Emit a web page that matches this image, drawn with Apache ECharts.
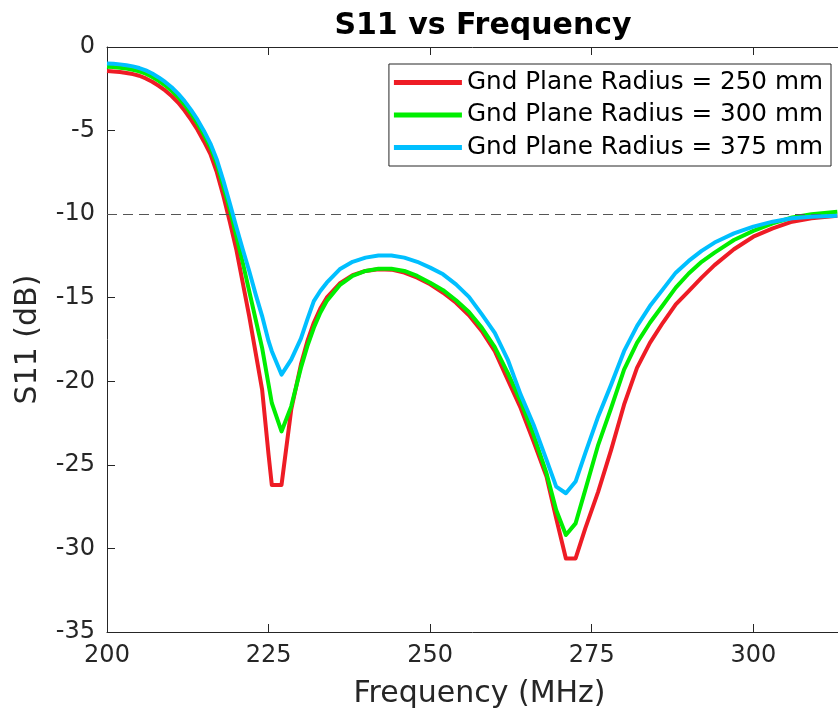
<!DOCTYPE html>
<html>
<head>
<meta charset="utf-8">
<script src="https://cdn.jsdelivr.net/npm/echarts@6/dist/echarts.min.js"></script>
<style>
html,body{margin:0;padding:0;background:#fff;}
#chart{width:838px;height:713px;}
</style>
</head>
<body>
<div id="chart"></div>
<script>
// Frequency samples (MHz)
const freq = [200,201,202,203,204,205,206,207,208,209,210,211,212,213,214,215,216,217,218,219,220,221,222,223,224,
  225,225.5,227,228.5,230,231,232,233,234,
  236,238,240,242,244,246,248,250,252,254,256,258,260,262,264,266,268,
  269.5,271,272.5,274,
  276,278,280,282,284,286,288,290,292,294,
  297,300,303,306,309,313];
// S11 (dB) for each ground plane radius
const s11_250 = [-1.44,-1.46,-1.50,-1.55,-1.62,-1.72,-1.88,-2.08,-2.32,-2.60,-2.93,-3.32,-3.80,-4.35,-4.95,-5.65,-6.40,-7.50,-8.90,-10.45,-12.1,-14.1,-16.1,-18.3,-20.5,
  -24.4,-26.2,-26.2,-21.7,-19.0,-17.6,-16.5,-15.65,-15.0,
  -14.15,-13.65,-13.4,-13.3,-13.32,-13.5,-13.8,-14.2,-14.7,-15.3,-16.05,-17.0,-18.2,-19.9,-21.6,-23.6,-25.7,
  -28.2,-30.6,-30.6,-28.8,
  -26.6,-24.1,-21.4,-19.2,-17.7,-16.5,-15.4,-14.6,-13.8,-13.05,
  -12.1,-11.35,-10.85,-10.45,-10.25,-10.1];
const s11_300 = [-1.18,-1.20,-1.24,-1.29,-1.36,-1.46,-1.60,-1.79,-2.02,-2.29,-2.61,-2.99,-3.45,-3.98,-4.57,-5.25,-6.0,-7.0,-8.35,-9.7,-11.3,-12.9,-14.6,-16.3,-18.0,
  -20.2,-21.3,-23.0,-21.5,-19.2,-17.9,-16.8,-15.9,-15.2,
  -14.25,-13.7,-13.4,-13.27,-13.27,-13.4,-13.7,-14.1,-14.55,-15.15,-15.85,-16.8,-17.95,-19.5,-21.2,-23.2,-25.5,
  -27.7,-29.2,-28.5,-26.5,
  -23.8,-21.6,-19.3,-17.7,-16.5,-15.45,-14.4,-13.55,-12.85,-12.3,
  -11.55,-11.0,-10.55,-10.2,-10.0,-9.85];
const s11_375 = [-0.98,-1.0,-1.04,-1.09,-1.16,-1.26,-1.40,-1.59,-1.82,-2.09,-2.41,-2.79,-3.24,-3.76,-4.35,-5.02,-5.78,-6.75,-8.0,-9.35,-10.75,-12.1,-13.4,-14.8,-16.1,
  -17.6,-18.2,-19.6,-18.7,-17.45,-16.3,-15.2,-14.6,-14.1,
  -13.3,-12.85,-12.6,-12.47,-12.47,-12.6,-12.85,-13.2,-13.6,-14.2,-14.95,-16.0,-17.1,-18.7,-20.8,-22.6,-24.7,
  -26.3,-26.7,-26.0,-24.3,
  -22.1,-20.2,-18.2,-16.7,-15.5,-14.5,-13.5,-12.8,-12.2,-11.7,
  -11.15,-10.75,-10.45,-10.25,-10.15,-10.1];
const seriesNames = ['Gnd Plane Radius = 250 mm','Gnd Plane Radius = 300 mm','Gnd Plane Radius = 375 mm'];
const seriesColors = ['#ee1c25','#00ee00','#00bfff'];
const xTicks = {min:200, max:313.1, interval:25};
const yTicks = {min:-35, max:0, interval:5};
const refLevel = -10;

const font = 'DejaVu Sans';
const axisColor = '#262626';
const zip = (ys) => freq.map((f,i)=>[f, ys[i]]);
const allY = [s11_250, s11_300, s11_375];

const chart = echarts.init(document.getElementById('chart'), null, {renderer:'canvas'});
const series = allY.map((ys, i) => ({
  name: seriesNames[i],
  type: 'line',
  data: zip(ys),
  showSymbol: false,
  smooth: false,
  lineStyle: {width: 4, color: seriesColors[i], join: 'round'},
  itemStyle: {color: seriesColors[i]},
  z: 3 + i,
  animation: false
}));
series[0].markLine = {
  silent: true, symbol: ['none','none'], animation: false,
  label: {show:false},
  lineStyle: {color:'#555', type:[10,6], width:1},
  data: [{yAxis: refLevel}]
};

chart.setOption({
  backgroundColor: '#fff',
  animation: false,
  title: {
    text: 'S11 vs Frequency', left: 478, top: 6, textAlign: 'center',
    textStyle: {fontFamily: font, fontWeight: 'bold', fontSize: 30, color: '#000'}
  },
  legend: {
    orient: 'vertical', right: 7, top: 64,
    backgroundColor: '#fff', borderColor: '#262626', borderWidth: 1,
    padding: [6, 8, 6, 5], itemGap: 7.5,
    itemWidth: 68, itemHeight: 5, icon: 'rect',
    textStyle: {fontFamily: font, fontSize: 24.7, color: '#000', lineHeight: 24},
    data: seriesNames
  },
  grid: {left: 107, right: 0, top: 47, bottom: 81, containLabel: false, outerBoundsMode: 'none'},
  xAxis: [{
    type: 'value', min: xTicks.min, max: xTicks.max, interval: xTicks.interval,
    name: 'Frequency (MHz)', nameLocation: 'middle', nameGap: 47,
    nameTextStyle: {fontFamily: font, fontSize: 30, color: axisColor, padding: [0,0,0,14]},
    axisLine: {show: true, onZero: false, lineStyle: {color: axisColor, width: 1}},
    axisTick: {show: true, inside: true, length: 8, lineStyle: {color: axisColor}},
    axisLabel: {fontFamily: font, fontSize: 24, color: axisColor, margin: 12, showMaxLabel: false},
    splitLine: {show: false}
  },{
    type: 'value', position: 'top', min: xTicks.min, max: xTicks.max, interval: xTicks.interval,
    axisLine: {show: true, onZero: false, lineStyle: {color: axisColor, width: 1}},
    axisTick: {show: true, inside: true, length: 8, lineStyle: {color: axisColor}},
    axisLabel: {show: false}, splitLine: {show: false}
  }],
  yAxis: [{
    type: 'value', min: yTicks.min, max: yTicks.max, interval: yTicks.interval,
    name: 'S11 (dB)', nameLocation: 'middle', nameGap: 64, nameRotate: 90,
    nameTextStyle: {fontFamily: font, fontSize: 30, color: axisColor},
    axisLine: {show: true, onZero: false, lineStyle: {color: axisColor, width: 1}},
    axisTick: {show: true, inside: true, length: 8, lineStyle: {color: axisColor}},
    axisLabel: {fontFamily: font, fontSize: 24, color: axisColor, margin: 12},
    splitLine: {show: false}
  }],
  series: series
});
</script>
</body>
</html>
